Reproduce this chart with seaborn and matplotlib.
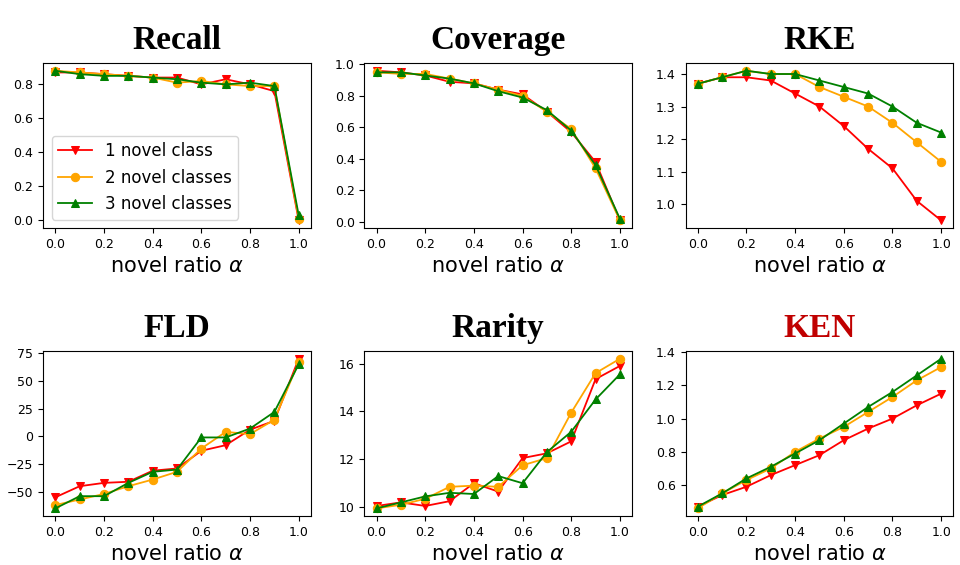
import matplotlib
matplotlib.use("Agg")
import matplotlib.pyplot as plt
import seaborn as sns

alpha = [0.0, 0.1, 0.2, 0.3, 0.4, 0.5, 0.6, 0.7, 0.8, 0.9, 1.0]
series_labels = ["1 novel class", "2 novel classes", "3 novel classes"]

recall_1 = [0.87, 0.87, 0.86, 0.85, 0.84, 0.84, 0.80, 0.83, 0.80, 0.76, 0.00]
recall_2 = [0.88, 0.87, 0.86, 0.85, 0.84, 0.81, 0.82, 0.80, 0.79, 0.79, 0.01]
recall_3 = [0.88, 0.86, 0.85, 0.85, 0.84, 0.83, 0.81, 0.80, 0.81, 0.79, 0.03]

coverage_1 = [0.96, 0.95, 0.93, 0.89, 0.88, 0.84, 0.81, 0.70, 0.57, 0.38, 0.01]
coverage_2 = [0.95, 0.94, 0.94, 0.91, 0.88, 0.84, 0.80, 0.70, 0.59, 0.34, 0.01]
coverage_3 = [0.95, 0.95, 0.93, 0.91, 0.88, 0.83, 0.79, 0.71, 0.58, 0.36, 0.02]

rke_1 = [1.37, 1.39, 1.39, 1.38, 1.34, 1.30, 1.24, 1.17, 1.11, 1.01, 0.95]
rke_2 = [1.37, 1.39, 1.41, 1.40, 1.40, 1.36, 1.33, 1.30, 1.25, 1.19, 1.13]
rke_3 = [1.37, 1.39, 1.41, 1.40, 1.40, 1.38, 1.36, 1.34, 1.30, 1.25, 1.22]

fld_1 = [-55, -45, -42, -41, -31, -29, -13, -8, 6, 14, 70]
fld_2 = [-62, -57, -52, -45, -39, -32, -11, 4, 2, 15, 67]
fld_3 = [-65, -54, -54, -42, -32, -30, -1, -1, 7, 22, 65]

rarity_1 = [10.05, 10.2, 10.05, 10.25, 11.0, 10.65, 12.05, 12.25, 12.75, 15.35, 15.9]
rarity_2 = [9.95, 10.1, 10.35, 10.85, 10.9, 10.85, 11.75, 12.05, 13.95, 15.6, 16.2]
rarity_3 = [9.95, 10.2, 10.45, 10.6, 10.55, 11.3, 11.0, 12.3, 13.15, 14.5, 15.55]

ken_1 = [0.47, 0.54, 0.59, 0.66, 0.72, 0.78, 0.87, 0.94, 1.00, 1.08, 1.15]
ken_2 = [0.46, 0.55, 0.63, 0.70, 0.80, 0.88, 0.95, 1.04, 1.13, 1.23, 1.31]
ken_3 = [0.47, 0.55, 0.64, 0.71, 0.79, 0.87, 0.97, 1.07, 1.16, 1.26, 1.36]

panels = [
    ("Recall", [recall_1, recall_2, recall_3]),
    ("Coverage", [coverage_1, coverage_2, coverage_3]),
    ("RKE", [rke_1, rke_2, rke_3]),
    ("FLD", [fld_1, fld_2, fld_3]),
    ("Rarity", [rarity_1, rarity_2, rarity_3]),
    ("KEN", [ken_1, ken_2, ken_3]),
]

colors = ["red", "orange", "green"]
markers = ["v", "o", "^"]

fig, axes = plt.subplots(2, 3, figsize=(9.6, 5.65), dpi=100)
fig.subplots_adjust(left=0.045, right=0.993, top=0.888, bottom=0.087,
                    wspace=0.2, hspace=0.75)

for ax, (name, vals) in zip(axes.flat, panels):
    for v, c, m, lab in zip(vals, colors, markers, series_labels):
        sns.lineplot(x=alpha, y=v, ax=ax, color=c, marker=m, markersize=6,
                     markeredgecolor=c, linewidth=1.3, label=lab)
    title_color = "#c00000" if name == "KEN" else "black"
    ax.set_title(name, fontsize=24, fontweight="bold", family="Liberation Serif",
                 color=title_color, pad=10)
    ax.set_xlabel(r"novel ratio $\alpha$", fontsize=15)
    ax.set_ylabel("")
    ax.set_xticks([0.0, 0.2, 0.4, 0.6, 0.8, 1.0])
    ax.tick_params(labelsize=9)
    if name == "Recall":
        ax.legend(loc="lower left", fontsize=12)
    else:
        ax.get_legend().remove()

fig.savefig("out.png", dpi=100)
